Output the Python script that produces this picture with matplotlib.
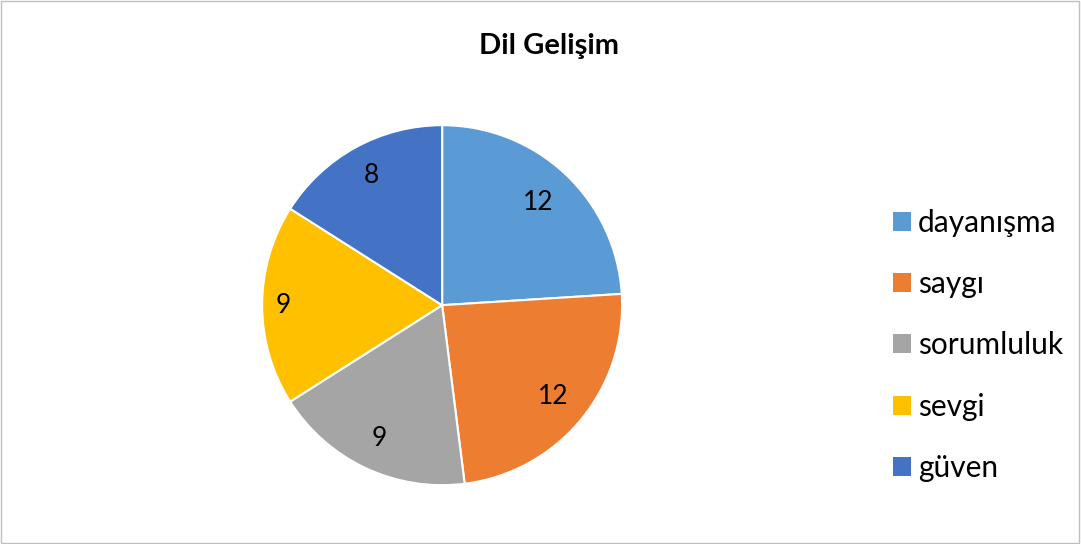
import numpy as np
import matplotlib.pyplot as plt
from matplotlib.patches import Rectangle, Patch

plt.rcParams['font.family'] = ['Lato', 'DejaVu Sans']

# veriler
kategoriler = ['dayanışma', 'saygı', 'sorumluluk', 'sevgi', 'güven']
degerler = [12, 12, 9, 9, 8]
renkler = ['#5B9BD5', '#ED7D31', '#A5A5A5', '#FFC000', '#4472C4']

fig = plt.figure(figsize=(10.81, 5.44), dpi=100)

# grafik alani cercevesi
fig.patches.append(Rectangle((0.001, 0.002), 0.997, 0.996, transform=fig.transFigure,
                             fill=False, edgecolor='#BFBFBF', linewidth=1))

ax = fig.add_axes([0.409 - 0.1665, 0.439 - 0.331, 0.333, 0.662])
wedges, _, etiketler = ax.pie(degerler, colors=renkler, startangle=90, counterclock=False,
                              autopct=lambda p: '{:.0f}'.format(p * sum(degerler) / 100),
                              pctdistance=0.8, wedgeprops=dict(edgecolor='white', linewidth=1.5),
                              textprops=dict(fontsize=19, color='black'))
# etiket mesafeleri (excel best fit gibi)
mesafe = [0.78, 0.8, 0.82, 0.88, 0.82]
for w, t, d in zip(wedges, etiketler, mesafe):
    a = np.deg2rad((w.theta1 + w.theta2) / 2)
    t.set_position((d * np.cos(a), d * np.sin(a)))
ax.set_xlim(-1.0, 1.0)
ax.set_ylim(-1.0, 1.0)
ax.set_aspect('equal')

fig.text(0.508, 0.915, 'Dil Gelişim', ha='center', va='center', fontsize=21, fontweight='bold')

handles = [Patch(facecolor=c, edgecolor='none') for c in renkler]
fig.legend(handles, kategoriler, loc='center left', bbox_to_anchor=(0.801, 0.365),
           frameon=False, fontsize=21.5, handlelength=0.6, handleheight=0.6,
           labelspacing=1.12, handletextpad=0.25)

plt.savefig('out.png', dpi=100)
